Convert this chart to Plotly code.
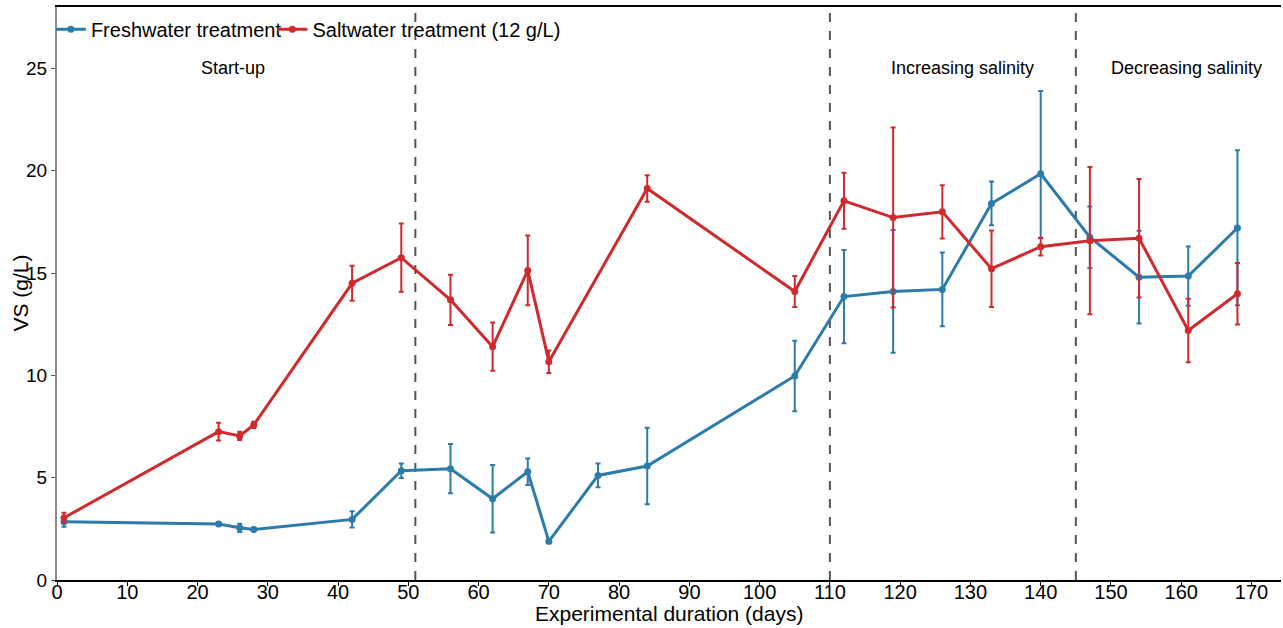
import plotly.graph_objects as go

# ---- data ----
fresh_days = [1, 23, 26, 28, 42, 49, 56, 62, 67, 70, 77, 84, 105, 112, 119, 126, 133, 140, 147, 154, 161, 168]
fresh_vs = [2.85, 2.74, 2.55, 2.47, 2.96, 5.34, 5.44, 3.97, 5.29, 1.89, 5.11, 5.57, 9.97, 13.85, 14.1, 14.2, 18.4, 19.85, 16.75, 14.8, 14.85, 17.2]
fresh_err_up = [0.25, 0.1, 0.2, 0.08, 0.4, 0.35, 1.2, 1.65, 0.65, 0.1, 0.58, 1.87, 1.72, 2.28, 3.0, 1.8, 1.07, 4.05, 1.5, 2.27, 1.45, 3.8]
fresh_err_down = [0.25, 0.1, 0.2, 0.08, 0.4, 0.35, 1.2, 1.65, 0.65, 0.1, 0.58, 1.87, 1.72, 2.28, 3.0, 1.8, 1.07, 3.15, 1.5, 2.27, 1.45, 3.77]

salt_days = [1, 23, 26, 28, 42, 49, 56, 62, 67, 70, 84, 105, 112, 119, 126, 133, 140, 147, 154, 161, 168]
salt_vs = [3.04, 7.25, 7.04, 7.58, 14.5, 15.75, 13.69, 11.4, 15.13, 10.67, 19.13, 14.1, 18.53, 17.71, 17.99, 15.21, 16.29, 16.58, 16.7, 12.19, 13.99]
salt_err = [0.25, 0.43, 0.2, 0.15, 0.86, 1.67, 1.23, 1.18, 1.7, 0.55, 0.65, 0.76, 1.37, 4.4, 1.3, 1.87, 0.43, 3.6, 2.9, 1.55, 1.5]

phase_breaks = [51, 110, 145]
phase_labels = ["Start-up", "Increasing salinity", "Decreasing salinity"]
phase_label_x = [25, 128.8, 160.8]
phase_label_y = 25

series_names = ["Freshwater treatment", "Saltwater treatment (12 g/L)"]
x_title = "Experimental duration (days)"
y_title = "VS (g/L)"

BLUE = "#2b7bab"
RED = "#cf2a2e"
FONT = "Liberation Sans, Arial, sans-serif"

fig = go.Figure()

fig.add_trace(go.Scatter(
    x=fresh_days, y=fresh_vs, mode="lines+markers", name=series_names[0],
    line=dict(color=BLUE, width=3), marker=dict(color=BLUE, size=7),
    error_y=dict(type="data", array=fresh_err_up, arrayminus=fresh_err_down,
                 symmetric=False, color=BLUE, thickness=2, width=2.5),
    legend="legend",
))
fig.add_trace(go.Scatter(
    x=salt_days, y=salt_vs, mode="lines+markers", name=series_names[1],
    line=dict(color=RED, width=3), marker=dict(color=RED, size=7),
    error_y=dict(type="data", array=salt_err, color=RED, thickness=2, width=2.5),
    legend="legend2",
))

for xb in phase_breaks:
    fig.add_shape(type="line", x0=xb, x1=xb, y0=0, y1=1, xref="x", yref="paper",
                  line=dict(color="#555555", width=2, dash="dash"), layer="below")

for lbl, lx in zip(phase_labels, phase_label_x):
    fig.add_annotation(x=lx, y=phase_label_y, text=lbl, showarrow=False,
                       font=dict(family=FONT, size=18, color="black"))

# axis titles
fig.add_annotation(x=0.5, y=0, xref="paper", yref="paper", xanchor="center",
                   yanchor="top", yshift=-20, text=x_title, showarrow=False,
                   font=dict(family=FONT, size=21, color="black"))
fig.add_annotation(x=0, y=0.5, xref="paper", yref="paper", xanchor="center",
                   yanchor="middle", xshift=-37, textangle=-90, text=y_title,
                   showarrow=False, font=dict(family=FONT, size=21, color="black"))

legend_common = dict(orientation="h", yanchor="top", xanchor="left", y=0.995,
                     font=dict(family=FONT, size=20, color="black"),
                     bgcolor="rgba(0,0,0,0)", itemwidth=30)

fig.update_layout(
    width=1283, height=628,
    margin=dict(l=57, r=2, t=7, b=48),
    paper_bgcolor="white", plot_bgcolor="white",
    font=dict(family=FONT, color="black"),
    showlegend=True,
    legend=dict(x=-0.005, **legend_common),
    legend2=dict(x=0.176, **legend_common),
    xaxis=dict(range=[0, 174.2], tickmode="linear", tick0=0, dtick=10,
               automargin=False,
               showgrid=False, zeroline=False, showline=True, linecolor="black",
               linewidth=1.5, mirror=True, ticks="outside", ticklen=4,
               ticklabelstandoff=-11,
               tickcolor="black", tickfont=dict(family=FONT, size=20, color="black")),
    yaxis=dict(range=[0, 28], tickmode="linear", tick0=0, dtick=5,
               automargin=False,
               showgrid=False, zeroline=False, showline=True, linecolor="#8c8c8c",
               linewidth=2, ticks="outside", ticklen=4, tickcolor="#555555",
               tickfont=dict(family=FONT, size=19, color="black")),
)

fig.write_html("out.html")
